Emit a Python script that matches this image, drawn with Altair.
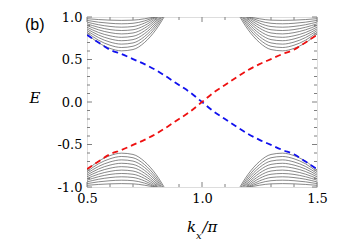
import altair as alt
import pandas as pd

# ---- data ----
band_k_left = [0.50, 0.55, 0.60, 0.65, 0.70, 0.75, 0.80, 0.85]
band_k_right = [1.15, 1.20, 1.25, 1.30, 1.35, 1.40, 1.45, 1.50]

top_left = [
    [0.80, 0.697, 0.631, 0.602, 0.617, 0.700, 0.852, 1.07],
    [0.82, 0.727, 0.668, 0.641, 0.656, 0.736, 0.881, 1.09],
    [0.84, 0.758, 0.705, 0.681, 0.695, 0.770, 0.908, 1.11],
    [0.86, 0.788, 0.742, 0.721, 0.734, 0.804, 0.932, 1.12],
    [0.88, 0.818, 0.779, 0.761, 0.773, 0.837, 0.954, 1.125],
    [0.90, 0.849, 0.816, 0.801, 0.812, 0.869, 0.973, 1.13],
    [0.92, 0.879, 0.852, 0.841, 0.850, 0.899, 0.989, 1.12],
    [0.94, 0.909, 0.889, 0.880, 0.888, 0.928, 1.000, 1.105],
    [0.96, 0.939, 0.926, 0.920, 0.926, 0.954, 1.006, 1.08],
    [0.98, 0.970, 0.963, 0.960, 0.963, 0.979, 1.007, 1.05],
]
top_right = [
    [1.07, 0.852, 0.700, 0.617, 0.602, 0.631, 0.697, 0.80],
    [1.09, 0.881, 0.736, 0.656, 0.641, 0.668, 0.727, 0.82],
    [1.11, 0.908, 0.770, 0.695, 0.681, 0.705, 0.758, 0.84],
    [1.12, 0.932, 0.804, 0.734, 0.721, 0.742, 0.788, 0.86],
    [1.125, 0.954, 0.837, 0.773, 0.761, 0.779, 0.818, 0.88],
    [1.13, 0.973, 0.869, 0.812, 0.801, 0.816, 0.849, 0.90],
    [1.12, 0.989, 0.899, 0.850, 0.841, 0.852, 0.879, 0.92],
    [1.105, 1.000, 0.928, 0.888, 0.880, 0.889, 0.909, 0.94],
    [1.08, 1.006, 0.954, 0.926, 0.920, 0.926, 0.939, 0.96],
    [1.05, 1.007, 0.979, 0.963, 0.960, 0.963, 0.970, 0.98],
]
bottom_left = [
    [-0.80, -0.697, -0.631, -0.602, -0.617, -0.700, -0.852, -1.07],
    [-0.82, -0.727, -0.668, -0.641, -0.656, -0.736, -0.881, -1.09],
    [-0.84, -0.758, -0.705, -0.681, -0.695, -0.770, -0.908, -1.11],
    [-0.86, -0.788, -0.742, -0.721, -0.734, -0.804, -0.932, -1.12],
    [-0.88, -0.818, -0.779, -0.761, -0.773, -0.837, -0.954, -1.125],
    [-0.90, -0.849, -0.816, -0.801, -0.812, -0.869, -0.973, -1.13],
    [-0.92, -0.879, -0.852, -0.841, -0.850, -0.899, -0.989, -1.12],
    [-0.94, -0.909, -0.889, -0.880, -0.888, -0.928, -1.000, -1.105],
    [-0.96, -0.939, -0.926, -0.920, -0.926, -0.954, -1.006, -1.08],
    [-0.98, -0.970, -0.963, -0.960, -0.963, -0.979, -1.007, -1.05],
]
bottom_right = [
    [-1.07, -0.852, -0.700, -0.617, -0.602, -0.631, -0.697, -0.80],
    [-1.09, -0.881, -0.736, -0.656, -0.641, -0.668, -0.727, -0.82],
    [-1.11, -0.908, -0.770, -0.695, -0.681, -0.705, -0.758, -0.84],
    [-1.12, -0.932, -0.804, -0.734, -0.721, -0.742, -0.788, -0.86],
    [-1.125, -0.954, -0.837, -0.773, -0.761, -0.779, -0.818, -0.88],
    [-1.13, -0.973, -0.869, -0.812, -0.801, -0.816, -0.849, -0.90],
    [-1.12, -0.989, -0.899, -0.850, -0.841, -0.852, -0.879, -0.92],
    [-1.105, -1.000, -0.928, -0.888, -0.880, -0.889, -0.909, -0.94],
    [-1.08, -1.006, -0.954, -0.926, -0.920, -0.926, -0.939, -0.96],
    [-1.05, -1.007, -0.979, -0.963, -0.960, -0.963, -0.970, -0.98],
]

edge_k = [0.50, 0.55, 0.60, 0.65, 0.70, 0.75, 0.80, 0.85, 0.90, 0.95, 1.00,
          1.05, 1.10, 1.15, 1.20, 1.25, 1.30, 1.35, 1.40, 1.45, 1.50]
edge_blue = [0.79, 0.70, 0.615, 0.565, 0.505, 0.445, 0.375, 0.29, 0.20, 0.11, 0.0,
             -0.11, -0.20, -0.29, -0.375, -0.445, -0.505, -0.565, -0.615, -0.70, -0.79]
edge_red = [-0.79, -0.70, -0.615, -0.565, -0.505, -0.445, -0.375, -0.29, -0.20, -0.11, 0.0,
            0.11, 0.20, 0.29, 0.375, 0.445, 0.505, 0.565, 0.615, 0.70, 0.79]

x_minor = [0.6, 0.7, 0.8, 0.9, 1.1, 1.2, 1.3, 1.4]
x_major = [0.5, 1.0, 1.5]
y_minor = [-0.9, -0.8, -0.7, -0.6, -0.4, -0.3, -0.2, -0.1,
           0.1, 0.2, 0.3, 0.4, 0.6, 0.7, 0.8, 0.9]
y_major = [-1.0, -0.5, 0.0, 0.5, 1.0]

# ---- tables ----
rows = []
cid = 0
for ks, band in [(band_k_left, top_left), (band_k_right, top_right),
                 (band_k_left, bottom_left), (band_k_right, bottom_right)]:
    for curve in band:
        for k, e in zip(ks, curve):
            rows.append({"k": k, "E": e, "c": cid})
        cid += 1
bands_df = pd.DataFrame(rows)
blue_df = pd.DataFrame({"k": edge_k, "E": edge_blue})
red_df = pd.DataFrame({"k": edge_k, "E": edge_red})

W, H = 230, 170
AX = "#808080"
SERIF = "DejaVu Serif"
SANS = "Liberation Sans"

xscale = alt.Scale(domain=[0.5, 1.5], nice=False, zero=False)
yscale = alt.Scale(domain=[-1.0, 1.0], nice=False, zero=False)
fmt_expr = "datum.value < 0 ? '-' + format(-datum.value, '.1f') : format(datum.value, '.1f')"
xaxis = alt.Axis(values=x_major, labelExpr=fmt_expr, ticks=False, domain=False, grid=False,
                 labelFont=SERIF, labelFontSize=13, labelColor="black", labelPadding=5,
                 labelFlush=False, labelOverlap=False, labelBound=False, title=None)
yaxis = alt.Axis(values=y_major, labelExpr=fmt_expr, ticks=False, domain=False, grid=False,
                 labelFont=SERIF, labelFontSize=13, labelColor="black", labelPadding=5,
                 labelFlush=False, labelOverlap=False, labelBound=False, title=None)


def X(field="k"):
    return alt.X(f"{field}:Q", scale=xscale, axis=xaxis)


def Y(field="E"):
    return alt.Y(f"{field}:Q", scale=yscale, axis=yaxis)


bands = alt.Chart(bands_df).mark_line(
    color="#555555", strokeWidth=0.7, interpolate="monotone", clip=True
).encode(x=X(), y=Y(), detail="c:N", order="k:Q")

blue = alt.Chart(blue_df).mark_line(
    color="#1010ee", strokeWidth=1.8, strokeDash=[6, 4], interpolate="monotone", clip=True
).encode(x=X(), y=Y(), order="k:Q")

red = alt.Chart(red_df).mark_line(
    color="#ee1010", strokeWidth=1.8, strokeDash=[6, 4], interpolate="monotone", clip=True
).encode(x=X(), y=Y(), order="k:Q")

xmin_df = pd.DataFrame({"k": x_minor})
xmaj_df = pd.DataFrame({"k": x_major})
ymin_df = pd.DataFrame({"E": y_minor})
ymaj_df = pd.DataFrame({"E": y_major})

tick_layers = []
for df, L in [(xmin_df, 3), (xmaj_df, 5)]:
    tick_layers.append(alt.Chart(df).mark_rule(color=AX, strokeWidth=1).encode(
        x=X(), y=alt.value(H), y2=alt.value(H - L)))
    tick_layers.append(alt.Chart(df).mark_rule(color=AX, strokeWidth=1).encode(
        x=X(), y=alt.value(0), y2=alt.value(L)))
for df, L in [(ymin_df, 3), (ymaj_df, 5)]:
    tick_layers.append(alt.Chart(df).mark_rule(color=AX, strokeWidth=1).encode(
        y=Y(), x=alt.value(0), x2=alt.value(L)))
    tick_layers.append(alt.Chart(df).mark_rule(color=AX, strokeWidth=1).encode(
        y=Y(), x=alt.value(W), x2=alt.value(W - L)))

one = alt.Data(values=[{}])
label_b = alt.Chart(one).mark_text(
    text="(b)", align="left", baseline="alphabetic", font=SANS, fontSize=16, color="black"
).encode(x=alt.value(-62), y=alt.value(12.5))
label_E = alt.Chart(one).mark_text(
    text="E", align="center", baseline="alphabetic", font=SERIF, fontStyle="italic", fontSize=15, color="black"
).encode(x=alt.value(-52), y=alt.value(86))
label_k = alt.Chart(one).mark_text(
    text="k", align="left", baseline="alphabetic", font=SERIF, fontStyle="italic", fontSize=15, color="black"
).encode(x=alt.value(100), y=alt.value(215))
label_x = alt.Chart(one).mark_text(
    text="x", align="left", baseline="alphabetic", font=SERIF, fontStyle="italic", fontSize=10, color="black"
).encode(x=alt.value(109), y=alt.value(222))
label_pi = alt.Chart(one).mark_text(
    text="/π", align="left", baseline="alphabetic", font=SERIF, fontStyle="italic", fontSize=15, color="black"
).encode(x=alt.value(115.5), y=alt.value(215))

chart = alt.layer(
    bands, blue, red, *tick_layers, label_b, label_E, label_k, label_x, label_pi
).properties(
    width=W, height=H,
    padding={"left": 79, "top": 9, "right": 20, "bottom": 55},
    autosize="none",
).configure_view(stroke=AX, strokeWidth=2).configure(background="white")

chart.save("out.html", embed_options={"renderer": "svg", "actions": False})
